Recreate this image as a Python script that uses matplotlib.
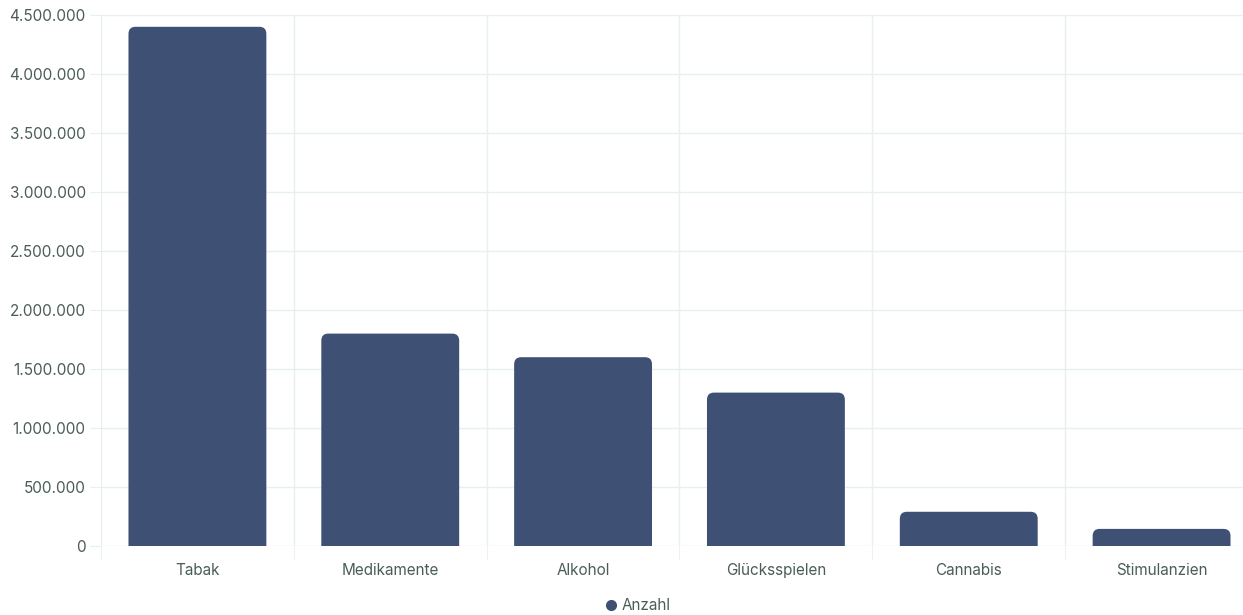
import numpy as np
import matplotlib.pyplot as plt
from matplotlib.patches import FancyBboxPatch
from matplotlib.ticker import FuncFormatter
from matplotlib.lines import Line2D

plt.rcParams['font.family'] = ['Inter', 'DejaVu Sans']

categories = ["Tabak", "Medikamente", "Alkohol", "Glücksspielen", "Cannabis", "Stimulanzien"]
anzahl = [4400000, 1800000, 1600000, 1300000, 290000, 145000]
yticks = [0, 500000, 1000000, 1500000, 2000000, 2500000, 3000000, 3500000, 4000000, 4500000]

barColor = "#3f5075"
gridColor = "#e6f0ef"
textColor = "#4a5e55"

fig = plt.figure(figsize=(12.43, 6.15), dpi=100)
ax = fig.add_axes([101/1243, 69/615, 1157/1243, 531/615])
ax.set_clip_on(True)

x = np.arange(len(categories))
bars = ax.bar(x, anzahl, width=0.715, color=barColor)
ax.set_xlim(-0.5, len(categories) - 0.5)
ax.set_ylim(0, 4500000)

#Ecken oben abrunden: Balken durch FancyBboxPatch ersetzen
pxX = 1157/6 #px pro x-Einheit
pxY = 531/4500000 #px pro y-Einheit
r = 7/pxX
for b in bars:
    b.set_visible(False)
    p = FancyBboxPatch((b.get_x(), -20/pxY), b.get_width(), b.get_height() + 20/pxY,
                       boxstyle=f"round,pad=0,rounding_size={r}",
                       mutation_aspect=pxX/pxY, facecolor=barColor, edgecolor="none",
                       zorder=3)
    p.set_clip_path(ax.patch)
    ax.add_patch(p)

ax.set_yticks(yticks)
ax.yaxis.set_major_formatter(FuncFormatter(lambda v, pos: f"{int(v):,}".replace(",", ".")))
ax.set_xticks(x)
ax.set_xticklabels(categories)
ax.set_xticks(np.arange(-0.5, len(categories), 1.0), minor=True)

ax.grid(axis="y", which="major", color=gridColor, lw=1, zorder=0)
ax.grid(axis="x", which="minor", color=gridColor, lw=1, zorder=0)
ax.tick_params(axis="y", length=8, color=gridColor, labelsize=11, labelcolor=textColor, pad=3)
ax.tick_params(axis="x", which="major", length=0, labelsize=11, labelcolor=textColor, pad=12)
ax.tick_params(axis="x", which="minor", length=9, color=gridColor)
for s in ax.spines.values():
    s.set_visible(False)

handle = Line2D([], [], marker="o", ls="none", color=barColor, markersize=7)
fig.legend([handle], ["Anzahl"], loc="center", bbox_to_anchor=(637/1243, 1 - 606/615),
           frameon=False, fontsize=11, labelcolor=textColor, handletextpad=0.2,
           handlelength=1.0)

fig.savefig("out.png", dpi=100)
